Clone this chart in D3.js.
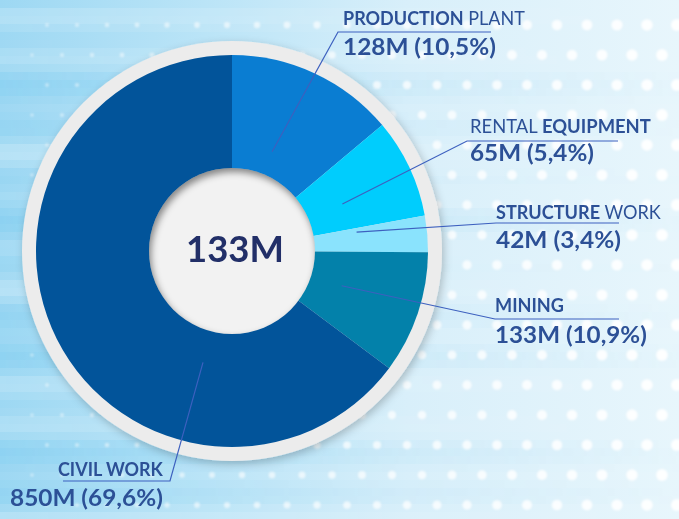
<!DOCTYPE html>
<html>
<head>
<meta charset="utf-8">
<script src="https://cdn.jsdelivr.net/npm/d3@7"></script>
<style>
  html,body{margin:0;padding:0;overflow:hidden;background:#d6effa;}
  svg{display:block;}
</style>
</head>
<body>
<svg id="chart" width="679" height="519"></svg>
<script>
// ---- data ----
const categories = ["PRODUCTION PLANT", "RENTAL EQUIPMENT", "STRUCTURE WORK", "MINING", "CIVIL WORK"];
const valuesM    = [128, 65, 42, 133, 850];
const percents   = [10.5, 5.4, 3.4, 10.9, 69.6];
// share of the circle each slice takes in the drawing (angles measured on the picture)
const sliceShare = [13.9, 8.2, 3.0, 10.1, 64.8];
const centerTotal = 133;

const sliceColors = ["#0a7dd2", "#00cdfd", "#8ae3fd", "#0381aa", "#02549a"];
const labelColor = "#2c5096";
const lineColor = "#3d60bf";

const W = 679, H = 519;
const cx = 232, cy = 251;
const rOuter = 196, rInner = 83, rRing = 210;

// label layout: emphasised word, text boxes, underline and leader anchor
const labelLayout = [
  {bold:"PRODUCTION", first:true,  tx:343, ty:25,  tw:182, vx:343, vy:55,  vw:153, ux1:338, ux2:491, uy:32,  ang:22,    rad:107, side:"left"},
  {bold:"EQUIPMENT",  first:false, tx:470, ty:133, tw:181, vx:470, vy:161, vw:124, ux1:467, ux2:618, uy:141, ang:66.9,  rad:120, side:"left"},
  {bold:"STRUCTURE",  first:true,  tx:496, ty:219, tw:165, vx:496, vy:248, vw:125, ux1:496, ux2:619, uy:223, ang:81.4,  rad:126, side:"left"},
  {bold:"MINING",     first:true,  tx:495, ty:312, tw:69,  vx:495, vy:343, vw:152, ux1:495, ux2:619, uy:319, ang:107.6, rad:115, side:"left"},
  {bold:"CIVIL WORK", first:true,  tx:58,  ty:476, tw:105, vx:10,  vy:506, vw:153, ux1:63,  ux2:170, uy:481, ang:194.6, rad:115, side:"right"}
];

const svg = d3.select("#chart");
const defs = svg.append("defs");

// ---- background ----
const bg = defs.append("linearGradient").attr("id","bgGrad").attr("x1","0").attr("x2","1").attr("y1","0").attr("y2","0");
[["0%","#9dd8f3"],["30%","#bae4f7"],["60%","#d8effa"],["100%","#e8f6fc"]].forEach(s=>{
  bg.append("stop").attr("offset",s[0]).attr("stop-color",s[1]);
});
svg.append("rect").attr("width",W).attr("height",H).attr("fill","url(#bgGrad)");

// horizontal streaks fading to the right
const fade = defs.append("linearGradient").attr("id","fadeGrad").attr("x1","0").attr("x2","1");
fade.append("stop").attr("offset","0%").attr("stop-color","#fff").attr("stop-opacity",1);
fade.append("stop").attr("offset","55%").attr("stop-color","#fff").attr("stop-opacity",0.4);
fade.append("stop").attr("offset","100%").attr("stop-color","#fff").attr("stop-opacity",0.05);
defs.append("mask").attr("id","fadeMask")
  .append("rect").attr("width",W).attr("height",H).attr("fill","url(#fadeGrad)");

const streaks = svg.append("g").attr("mask","url(#fadeMask)");
for (let y = 0; y < H; y += 8){
  const k = Math.sin(y*0.137) + Math.sin(y*0.051);
  streaks.append("rect").attr("x",0).attr("y",y).attr("width",W).attr("height",8)
    .attr("fill", k > 0 ? "#ffffff" : "#62c2ee")
    .attr("opacity", Math.min(0.32, Math.abs(k)*0.14));
}

// white dot grid, bigger and brighter to the right
defs.append("filter").attr("id","soft").append("feGaussianBlur").attr("stdDeviation",1.2);
const dots = svg.append("g").attr("filter","url(#soft)");
for (let i = 0, y = 25; y < H + 10; i++, y += 30){
  for (let x = 47 - (i % 2 ? 15 : 0); x < W + 10; x += 30){
    const t = x / W;
    dots.append("circle").attr("cx",x).attr("cy",y)
      .attr("r", 1.6 + 4.4*t)
      .attr("fill","#ffffff")
      .attr("opacity", 0.4 + 0.55*t);
  }
}

// ---- donut ----
const drop = defs.append("filter").attr("id","drop").attr("x","-20%").attr("y","-20%").attr("width","140%").attr("height","140%");
drop.append("feDropShadow").attr("dx",2).attr("dy",3).attr("stdDeviation",4)
  .attr("flood-color","#000").attr("flood-opacity",0.22);

const g = svg.append("g").attr("transform",`translate(${cx},${cy})`);
g.append("circle").attr("r",rRing).attr("fill","#ececec").attr("filter","url(#drop)");

const pie = d3.pie().sort(null).value(d=>d);
const arcs = pie(sliceShare);
const arc = d3.arc().innerRadius(0).outerRadius(rOuter);

g.selectAll("path.slice")
  .data(arcs)
  .enter().append("path")
  .attr("class","slice")
  .attr("d", arc)
  .attr("fill", (d,i)=>sliceColors[i]);

// centre disc with inset shadow
defs.append("clipPath").attr("id","hole").append("circle").attr("r",rInner);
const blur = defs.append("filter").attr("id","blur4").attr("x","-50%").attr("y","-50%").attr("width","200%").attr("height","200%");
blur.append("feGaussianBlur").attr("stdDeviation",3.5);

g.append("circle").attr("r",rInner).attr("fill","#f2f2f2");
g.append("g").attr("clip-path","url(#hole)")
  .append("circle").attr("cx",2).attr("cy",4).attr("r",rInner+8)
  .attr("fill","none").attr("stroke","#000").attr("stroke-opacity",0.45)
  .attr("stroke-width",16).attr("filter","url(#blur4)");

// fit a text element to a target width by horizontal scaling
function fitText(sel, x, y, targetW){
  const w = sel.node().getComputedTextLength();
  const sx = w > 0 ? targetW / w : 1;
  sel.attr("transform",`translate(${x},${y}) scale(${sx},1)`);
}

const fmtPct = v => v.toFixed(1).replace(".", ",") + "%";

const centre = svg.append("text")
  .attr("font-family","Lato, 'Open Sans', sans-serif")
  .attr("font-weight",700).attr("font-size",36)
  .attr("fill","#222f68")
  .text(centerTotal + "M");
fitText(centre, 186, 262, 98);

// ---- labels and leader lines ----
const labels = svg.append("g").attr("font-family","Lato, 'Open Sans', sans-serif").attr("fill",labelColor);
const leaders = svg.append("g").attr("stroke",lineColor).attr("stroke-width",1.2).attr("fill","none");

categories.forEach((name, i)=>{
  const L = labelLayout[i];
  const rest = name.replace(L.bold, "").trim();

  const t = labels.append("text").attr("font-size",19);
  if (L.first){
    t.append("tspan").attr("font-weight",700).text(L.bold);
    if (rest) t.append("tspan").attr("font-weight",400).text(" " + rest);
  } else {
    t.append("tspan").attr("font-weight",400).text(rest + " ");
    t.append("tspan").attr("font-weight",700).text(L.bold);
  }
  fitText(t, L.tx, L.ty, L.tw);

  const v = labels.append("text").attr("font-size",23).attr("font-weight",700)
    .text(`${valuesM[i]}M (${fmtPct(percents[i])})`);
  fitText(v, L.vx, L.vy, L.vw);

  const p = d3.pointRadial(L.ang * Math.PI/180, L.rad);
  const end = L.side === "left" ? L.ux1 : L.ux2;
  leaders.append("path")
    .attr("d", `M${cx + p[0]},${cy + p[1]} L${end},${L.uy} ` +
               (L.side === "left" ? `L${L.ux2},${L.uy}` : `L${L.ux1},${L.uy}`));
});
</script>
</body>
</html>
